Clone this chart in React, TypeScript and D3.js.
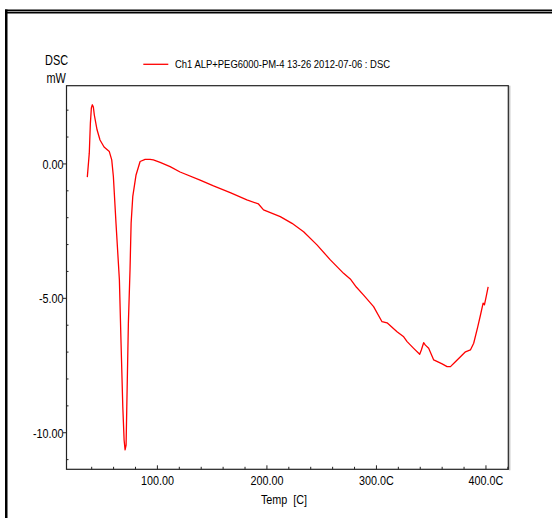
import React from 'react'
import * as d3 from 'd3'

// DSC curve: temperature [C] and heat flow [mW]
const temp = [
  36.0, 37.8, 38.8, 39.7, 40.6, 41.5, 42.4, 44.9, 47.6, 51.3, 56.1, 58.3, 59.8, 62.2, 65.3, 66.8,
  68.4, 69.6, 70.5, 71.4, 72.0, 73.5, 75.0, 76.0, 77.5, 80.5, 84.2, 88.8, 93.3, 96.3, 102.5, 111.6,
  120.7, 139.0, 151.2, 166.5, 181.7, 192.3, 196.9, 212.2, 222.9, 233.5, 245.7, 257.9, 270.0, 276.1,
  281.6, 288.3, 297.4, 305.1, 309.7, 318.8, 324.9, 328.0, 334.0, 339.5, 341.0, 343.1, 344.7, 347.7,
  352.3, 360.0, 364.5, 367.6, 372.1, 381.3, 385.8, 388.8, 392.5, 395.0, 397.4, 398.6, 400.2, 402.0,
]
const dsc = [
  -0.49, 0.4, 1.51, 2.08, 2.2, 2.12, 1.82, 1.27, 0.89, 0.63, 0.46, 0.15, -0.47, -2.21, -4.32, -6.66,
  -9.03, -10.27, -10.64, -10.46, -9.16, -5.93, -3.94, -2.21, -1.22, -0.41, 0.09, 0.17, 0.17, 0.15, 0.06, -0.1,
  -0.3, -0.6, -0.82, -1.07, -1.34, -1.49, -1.71, -1.96, -2.21, -2.52, -3.01, -3.57, -4.07, -4.28,
  -4.58, -4.88, -5.31, -5.87, -5.91, -6.24, -6.43, -6.61, -6.86, -7.08, -6.92, -6.65, -6.74, -6.86,
  -7.29, -7.44, -7.54, -7.54, -7.36, -6.99, -6.92, -6.67, -6.06, -5.62, -5.18, -5.24, -4.94, -4.57,
]

const xMajor = [100, 200, 300, 400]
const xLabels = ['100.00', '200.00', '300.0C', '400.0C']
const xMinor = d3.range(40, 421, 20)
const yMajor = [0, -5, -10]
const yLabels = ['0.00', '-5.00', '-10.00']
const yMinor = d3.range(2, -12, -1)

const legendText = 'Ch1 ALP+PEG6000-PM-4 13-26 2012-07-06 : DSC'
const font = 'Liberation Sans, Arial, sans-serif'

// narrow text like the instrument software
const Txt = ({ x, y, size, sx, anchor, children }: any) => (
  <text
    transform={`translate(${x},${y}) scale(${sx},1)`}
    fontSize={size}
    fontFamily={font}
    textAnchor={anchor || 'start'}
    fill="#000"
    style={{ whiteSpace: 'pre' }}
  >
    {children}
  </text>
)

export default function App() {
  const x = d3.scaleLinear().domain([17, 420.4]).range([66.5, 508.3])
  const y = d3.scaleLinear().domain([2.91, -11.36]).range([85.7, 469.3])
  const [x0, x1] = x.range()
  const [y0, y1] = y.range()

  const line = d3
    .line<number>()
    .x((d, i) => x(temp[i]))
    .y((d) => y(d))

  return (
    <div style={{ position: 'absolute', left: 0, top: 0 }}>
      <svg width={552} height={518} style={{ display: 'block', background: '#fff' }}>
        {/* outer window frame */}
        <rect x={5} y={9.5} width={547} height={4} fill="#000" />
        <rect x={5} y={11} width={547} height={1} fill="#999" />
        <rect x={5} y={9.5} width={2.5} height={509} fill="#000" />

        {/* plot box */}
        <rect x={x0} y={y0} width={x1 - x0} height={y1 - y0} fill="none" stroke="#222" strokeWidth={1.2} />
        <line x1={x1 + 1.5} x2={x1 + 1.5} y1={y0} y2={y1 + 1} stroke="#aaa" strokeWidth={1} />

        {/* y ticks */}
        {yMinor.filter((v) => !yMajor.includes(v)).map((v) => (
          <line key={'ym' + v} x1={x0} x2={x0 + 2} y1={y(v)} y2={y(v)} stroke="#222" strokeWidth={1} />
        ))}
        {yMajor.map((v, i) => (
          <g key={'yM' + v}>
            <line x1={x0 - 3.5} x2={x0} y1={y(v)} y2={y(v)} stroke="#222" strokeWidth={1} />
            <Txt x={x0 - 3} y={y(v) + 5} size={13.5} sx={0.8} anchor="end">
              {yLabels[i]}
            </Txt>
          </g>
        ))}

        {/* x ticks */}
        {xMinor.filter((v) => !xMajor.includes(v)).map((v) => (
          <line key={'xm' + v} x1={x(v)} x2={x(v)} y1={y1} y2={y1 - 2.5} stroke="#222" strokeWidth={1} />
        ))}
        {xMajor.map((v, i) => (
          <g key={'xM' + v}>
            <line x1={x(v)} x2={x(v)} y1={y1} y2={y1 - 4} stroke="#222" strokeWidth={1} />
            <Txt x={x(v)} y={485} size={13.5} sx={0.8} anchor="middle">
              {xLabels[i]}
            </Txt>
          </g>
        ))}

        {/* axis titles */}
        <Txt x={284} y={504} size={13.5} sx={0.8} anchor="middle">
          {'Temp  [C]'}
        </Txt>
        <Txt x={45} y={65} size={14} sx={0.78}>
          DSC
        </Txt>
        <Txt x={46.5} y={83} size={14} sx={0.78}>
          mW
        </Txt>

        {/* legend */}
        <line x1={143.3} x2={168.3} y1={64.3} y2={64.3} stroke="#ff0000" strokeWidth={1.3} />
        <text
          x={175}
          y={68.3}
          fontSize={10.5}
          fontFamily={font}
          textLength={215}
          lengthAdjust="spacingAndGlyphs"
        >
          {legendText}
        </text>

        {/* curve */}
        <path d={line(dsc) || ''} fill="none" stroke="#ff0000" strokeWidth={1.3} strokeLinejoin="round" />
      </svg>
    </div>
  )
}
